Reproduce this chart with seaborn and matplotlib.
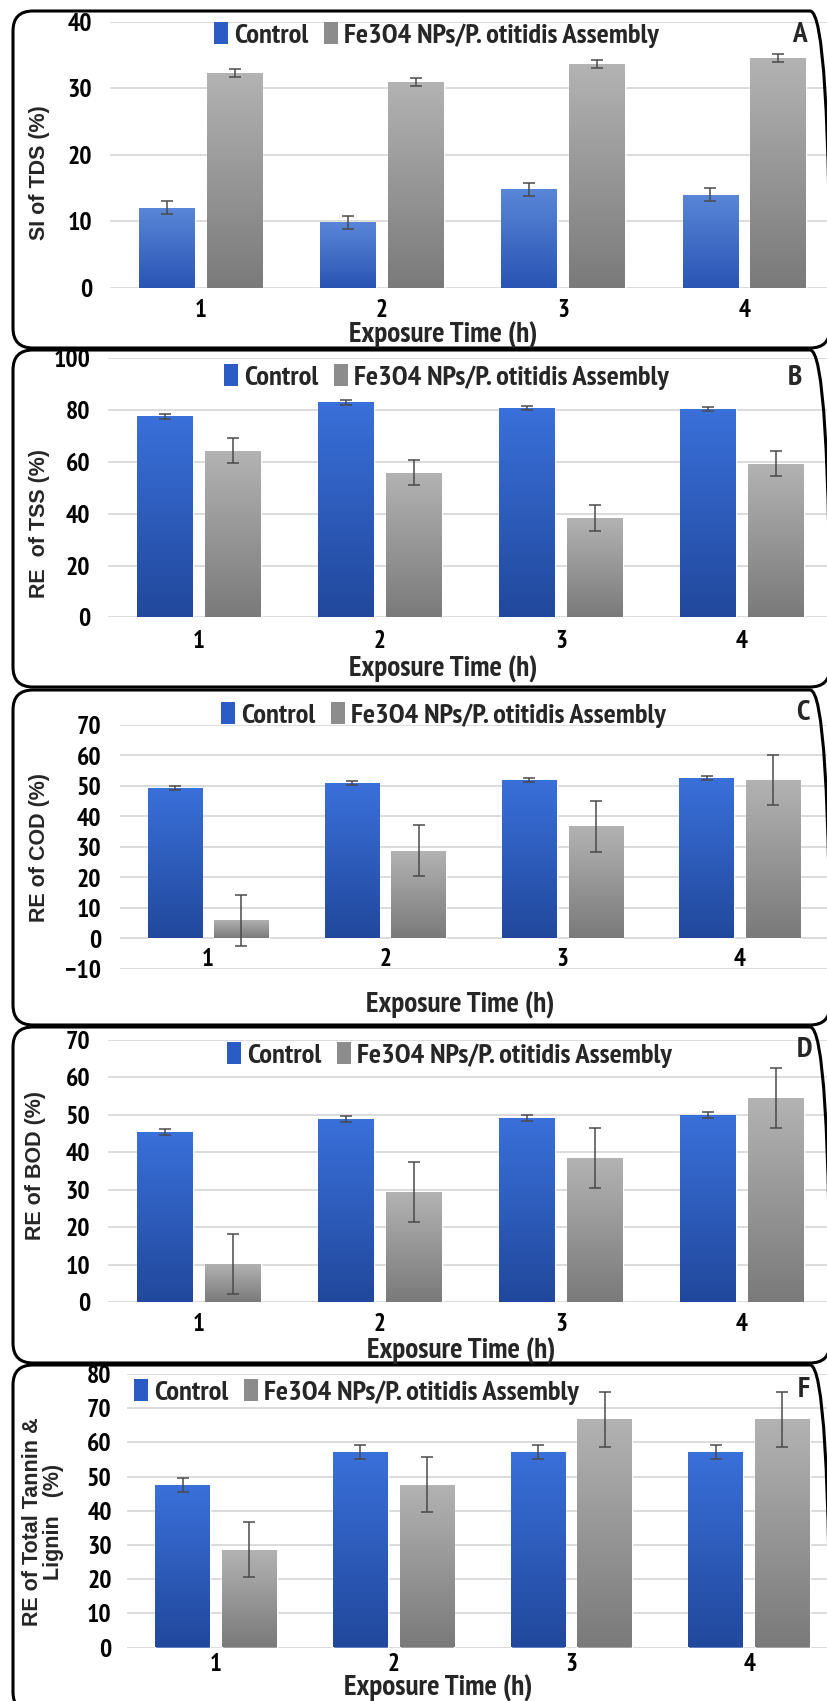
import numpy as np
import pandas as pd
import seaborn as sns
import matplotlib
matplotlib.use("Agg")
import matplotlib.pyplot as plt
from matplotlib.patches import FancyBboxPatch, Patch
from matplotlib.colors import LinearSegmentedColormap
from matplotlib import font_manager

# ---------------- data ----------------
times = ["1", "2", "3", "4"]
groups = ["Control", "Fe3O4 NPs/P. otitidis Assembly"]

tds_control = [12.0, 9.8, 14.8, 14.0]
tds_control_err = [1.0, 1.0, 1.0, 1.0]
tds_assembly = [32.3, 31.0, 33.6, 34.5]
tds_assembly_err = [0.6, 0.6, 0.6, 0.6]

tss_control = [77.5, 83.0, 80.7, 80.3]
tss_control_err = [1.0, 1.0, 0.8, 0.8]
tss_assembly = [64.3, 55.8, 38.3, 59.3]
tss_assembly_err = [4.9, 4.9, 4.9, 4.9]

cod_control = [49.4, 51.0, 52.0, 52.7]
cod_control_err = [0.6, 0.6, 0.7, 0.6]
cod_assembly = [6.0, 28.8, 36.8, 52.0]
cod_assembly_err = [8.3, 8.3, 8.3, 8.3]

bod_control = [45.5, 48.8, 49.2, 50.0]
bod_control_err = [0.8, 0.8, 0.8, 0.8]
bod_assembly = [10.2, 29.4, 38.4, 54.4]
bod_assembly_err = [8.0, 8.0, 8.0, 8.0]

tl_control = [47.6, 57.1, 57.1, 57.1]
tl_control_err = [2.0, 2.0, 2.0, 2.0]
tl_assembly = [28.6, 47.6, 66.7, 66.7]
tl_assembly_err = [8.0, 8.0, 8.0, 8.0]

# ---------------- fonts ----------------
sns.set_theme(style="white")


def has_static_bold(name):
    for f in font_manager.fontManager.ttflist:
        if f.name == name and f.style == "normal" and "[" not in f.fname:
            w = f.weight
            if w in ("bold", 700) or (isinstance(w, int) and w == 700):
                return True
    return False


narrow = "DejaVu Sans"
for cand in ["Liberation Sans Narrow", "Arial Narrow", "PT Sans Narrow", "Roboto Condensed",
             "IBM Plex Sans Condensed", "Asap Condensed", "Encode Sans Condensed",
             "Fira Sans Condensed"]:
    if has_static_bold(cand):
        narrow = cand
        break

names = {f.name for f in font_manager.fontManager.ttflist}
arial_like = "Liberation Sans" if "Liberation Sans" in names else ("Arimo" if "Arimo" in names else "DejaVu Sans")

plt.rcParams["font.family"] = [narrow, "DejaVu Sans"]
plt.rcParams["font.weight"] = "bold"
NFAM = [narrow, "DejaVu Sans"]

W, H = 827, 1701
fig = plt.figure(figsize=(W / 100, H / 100), dpi=100)
fig.patch.set_facecolor("white")

BLUE_TOP, BLUE_BOT = "#3a70da", "#21489c"
GRAY_TOP, GRAY_BOT = "#b3b3b3", "#7a7a7a"
BLUE_KEY, GRAY_KEY = "#2b5cc6", "#8c8c8c"

panels = [
    dict(letter="A", ylabel="SI of TDS (%)", ctrl=tds_control, ctrl_err=tds_control_err,
         asm=tds_assembly, asm_err=tds_assembly_err, ylim=(0, 40), step=10,
         ax_px=(110, 835, 21.7, 287.6), box=(11, 348), leg=(436, 35), let=(799, 35),
         xl=(443, 335), yl=(40, 173), xpad=8, ypad=13, zero_axis=False,
         btop="#5a86d8", bbot="#2a54b4"),
    dict(letter="B", ylabel="RE  of TSS (%)", ctrl=tss_control, ctrl_err=tss_control_err,
         asm=tss_assembly, asm_err=tss_assembly_err, ylim=(0, 100), step=20,
         ax_px=(108.5, 832.5, 358, 617.5), box=(350, 687), leg=(446, 377), let=(795, 378),
         xl=(443, 669), yl=(40, 523), xpad=9, ypad=13, zero_axis=False,
         btop=BLUE_TOP, bbot=BLUE_BOT),
    dict(letter="C", ylabel="RE of COD (%)", ctrl=cod_control, ctrl_err=cod_control_err,
         asm=cod_assembly, asm_err=cod_assembly_err, ylim=(-10, 70), step=10,
         ax_px=(119.5, 828.5, 725, 969), box=(690, 1025), leg=(443, 715), let=(803, 713),
         xl=(460, 1005), yl=(40, 847), xpad=7, ypad=13, zero_axis=True,
         btop=BLUE_TOP, bbot=BLUE_BOT),
    dict(letter="D", ylabel="RE of BOD (%)", ctrl=bod_control, ctrl_err=bod_control_err,
         asm=bod_assembly, asm_err=bod_assembly_err, ylim=(0, 70), step=10,
         ax_px=(108.5, 832.5, 1040, 1302), box=(1027, 1363), leg=(449, 1055), let=(804, 1050),
         xl=(461, 1351), yl=(36, 1165), xpad=8, ypad=13, zero_axis=False,
         btop=BLUE_TOP, bbot=BLUE_BOT),
    dict(letter="F", ylabel="RE of Total Tannin &\nLignin   (%)", ctrl=tl_control, ctrl_err=tl_control_err,
         asm=tl_assembly, asm_err=tl_assembly_err, ylim=(0, 80), step=10,
         ax_px=(127, 838, 1374, 1647.5), box=(1365, 1712), leg=(356, 1392), let=(804, 1390),
         xl=(438, 1688), yl=(43, 1522), xpad=4, ypad=11, zero_axis=False,
         btop=BLUE_TOP, bbot=BLUE_BOT),
]


def fx(x):
    return x / W


def fy(y):
    return 1 - y / H


grad = np.linspace(0, 1, 256).reshape(-1, 1)

for pnl in panels:
    # rounded frame
    btop, bbot = pnl["box"]
    frame = FancyBboxPatch((13 / 100, (H - bbot) / 100), (830 - 13) / 100, (bbot - btop) / 100,
                           boxstyle="round,pad=0,rounding_size=0.2",
                           transform=fig.dpi_scale_trans, fill=False,
                           edgecolor="black", linewidth=2.2, zorder=0)
    fig.patches.append(frame)

    l, r, t, b = pnl["ax_px"]
    ax = fig.add_axes([fx(l), fy(b), (r - l) / W, (b - t) / H])
    ax.set_facecolor("none")

    df = pd.DataFrame({
        "time": times * 2,
        "group": [groups[0]] * len(times) + [groups[1]] * len(times),
        "value": pnl["ctrl"] + pnl["asm"],
    })
    sns.barplot(data=df, x="time", y="value", hue="group", order=times, hue_order=groups,
                palette=[BLUE_KEY, GRAY_KEY], width=0.75, gap=0.18, errorbar=None,
                legend=False, ax=ax, zorder=2)

    errs = [pnl["ctrl_err"], pnl["asm_err"]]
    cols = [(pnl["btop"], pnl["bbot"]), (GRAY_TOP, GRAY_BOT)]
    for cont, err, (ctop, cbot) in zip(ax.containers, errs, cols):
        cmap = LinearSegmentedColormap.from_list("g", [ctop, cbot])
        for p, e in zip(cont.patches, err):
            x0, y0, w, h = p.get_x(), p.get_y(), p.get_width(), p.get_height()
            im = ax.imshow(grad, cmap=cmap, aspect="auto", extent=(x0, x0 + w, y0, y0 + h),
                           origin="upper", zorder=3, interpolation="bicubic")
            im.set_clip_path(p)
            ax.errorbar(x0 + w / 2, y0 + h, yerr=e, fmt="none", ecolor="#4a4a4a",
                        elinewidth=1.1, capsize=4, capthick=1.1, zorder=5)

    ax.set_xlim(-0.5, len(times) - 0.5)
    ax.set_ylim(*pnl["ylim"])
    ax.set_yticks(np.arange(pnl["ylim"][0], pnl["ylim"][1] + 0.1, pnl["step"]))
    ax.yaxis.grid(True, color="#d9d9d9", linewidth=1.3)
    ax.xaxis.grid(False)
    ax.set_axisbelow(True)
    for s in ax.spines.values():
        s.set_visible(False)
    if pnl["zero_axis"]:
        ax.spines["bottom"].set_position(("data", 0))
    ax.tick_params(axis="x", length=0, pad=pnl["xpad"], labelsize=18, colors="black")
    ax.tick_params(axis="y", length=0, pad=pnl["ypad"], labelsize=18.5, colors="black")
    for lab in ax.get_xticklabels() + ax.get_yticklabels():
        lab.set_fontweight("bold")
        lab.set_family(NFAM)
    ax.set_xlabel("")
    ax.set_ylabel("")

    # legend
    handles = [Patch(facecolor=BLUE_KEY, edgecolor="none"),
               Patch(facecolor=GRAY_KEY, edgecolor="none")]
    ax.legend(handles, groups, loc="center", bbox_to_anchor=(fx(pnl["leg"][0]), fy(pnl["leg"][1])),
              bbox_transform=fig.transFigure, ncol=2, frameon=False, handlelength=0.5,
              handleheight=0.8, handletextpad=0.2, columnspacing=0.55,
              prop=dict(family=NFAM, weight="bold", size=20.5))

    fig.text(fx(pnl["let"][0]), fy(pnl["let"][1]), pnl["letter"], ha="center", va="center",
             fontsize=21, fontweight="bold", family=NFAM)
    fig.text(fx(pnl["xl"][0]), fy(pnl["xl"][1]), "Exposure Time (h)", ha="center", va="center",
             fontsize=21, fontweight="bold", family=NFAM)
    fig.text(fx(pnl["yl"][0]), fy(pnl["yl"][1]), pnl["ylabel"], ha="center", va="center",
             rotation=90, fontsize=15.5, fontweight="bold", linespacing=1.0,
             family=[arial_like, "DejaVu Sans"], multialignment="center")

fig.savefig("out.png", dpi=100, facecolor="white")
